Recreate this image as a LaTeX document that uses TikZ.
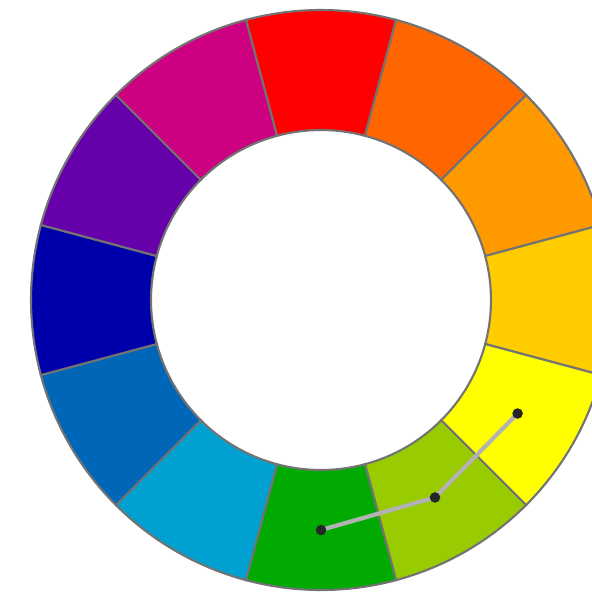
\documentclass[tikz,border=0pt]{standalone}
\definecolor{wred}{HTML}{FF0000}
\definecolor{wredorange}{HTML}{FF6600}
\definecolor{worange}{HTML}{FF9900}
\definecolor{wyelloworange}{HTML}{FFCC00}
\definecolor{wyellow}{HTML}{FFFF00}
\definecolor{wyellowgreen}{HTML}{99CC00}
\definecolor{wgreen}{HTML}{00AA00}
\definecolor{wcyan}{HTML}{00A0D0}
\definecolor{wblue}{HTML}{0066B8}
\definecolor{wdarkblue}{HTML}{0000AA}
\definecolor{wviolet}{HTML}{6600AA}
\definecolor{wmagenta}{HTML}{CC0080}
\begin{document}
\begin{tikzpicture}[segment/.style={draw=black!55, line width=0.6pt}]
  \useasboundingbox (-3.21,-2.91) rectangle (2.71,3.00);
  \filldraw[segment, fill=wred] (75:2.9) arc (75:105:2.9) -- (105:1.7) arc (105:75:1.7) -- cycle;
  \filldraw[segment, fill=wredorange] (45:2.9) arc (45:75:2.9) -- (75:1.7) arc (75:45:1.7) -- cycle;
  \filldraw[segment, fill=worange] (15:2.9) arc (15:45:2.9) -- (45:1.7) arc (45:15:1.7) -- cycle;
  \filldraw[segment, fill=wyelloworange] (-15:2.9) arc (-15:15:2.9) -- (15:1.7) arc (15:-15:1.7) -- cycle;
  \filldraw[segment, fill=wyellow] (-45:2.9) arc (-45:-15:2.9) -- (-15:1.7) arc (-15:-45:1.7) -- cycle;
  \filldraw[segment, fill=wyellowgreen] (-75:2.9) arc (-75:-45:2.9) -- (-45:1.7) arc (-45:-75:1.7) -- cycle;
  \filldraw[segment, fill=wgreen] (-105:2.9) arc (-105:-75:2.9) -- (-75:1.7) arc (-75:-105:1.7) -- cycle;
  \filldraw[segment, fill=wcyan] (-135:2.9) arc (-135:-105:2.9) -- (-105:1.7) arc (-105:-135:1.7) -- cycle;
  \filldraw[segment, fill=wblue] (-165:2.9) arc (-165:-135:2.9) -- (-135:1.7) arc (-135:-165:1.7) -- cycle;
  \filldraw[segment, fill=wdarkblue] (165:2.9) arc (165:195:2.9) -- (195:1.7) arc (195:165:1.7) -- cycle;
  \filldraw[segment, fill=wviolet] (135:2.9) arc (135:165:2.9) -- (165:1.7) arc (165:135:1.7) -- cycle;
  \filldraw[segment, fill=wmagenta] (105:2.9) arc (105:135:2.9) -- (135:1.7) arc (135:105:1.7) -- cycle;
  % dots in the analogous hues
  \coordinate (Y) at (-30:2.27);
  \coordinate (YG) at (-60:2.28);
  \coordinate (G) at (-90:2.30);
  \draw[gray!60, line width=1.2pt] (Y) -- (YG) -- (G);
  \fill[black!85] (Y) circle (1.5pt);
  \fill[black!85] (YG) circle (1.5pt);
  \fill[black!85] (G) circle (1.5pt);
\end{tikzpicture}
\end{document}
